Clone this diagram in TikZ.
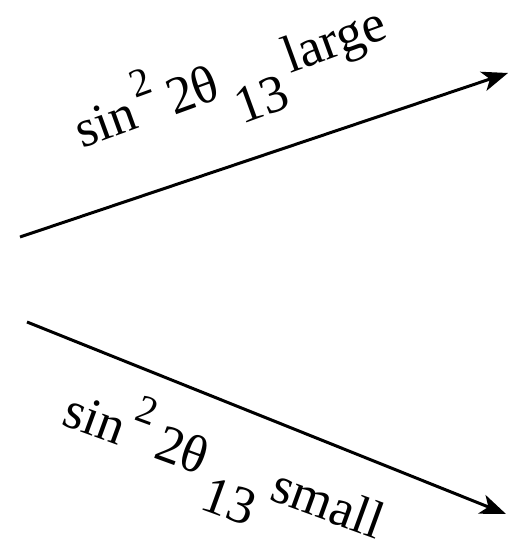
\documentclass[tikz,border=0pt]{standalone}
\usepackage{fontspec}
\setmainfont{Liberation Serif}
\usetikzlibrary{arrows.meta}
\tikzset{
  branch/.style={-{Stealth[length=26pt,width=20pt,inset=7pt]},line width=3pt},
  lbl/.style={font=\fontsize{53}{53}\selectfont,inner sep=0pt,anchor=base west}
}
% sin^2 2theta_13 followed by a word
\newcommand{\mixlbl}[1]{sin\hspace{0.1em}\raisebox{0.55em}{\fontsize{40}{40}\selectfont 2}\hspace{0.2em}2θ\hspace{0.18em}\raisebox{-0.6em}{13}\hspace{0.18em}#1}
\begin{document}
\begin{tikzpicture}[x=1pt,y=-1pt]
  \useasboundingbox (0,0) rectangle (511,545);
  % start points of the two branches
  \coordinate (up0) at (20,237);
  \coordinate (lo0) at (27,322);
  % arrow tips
  \coordinate (up1) at (508,73);
  \coordinate (lo1) at (506,514);
  \draw[branch] (up0) -- (up1);
  \draw[branch] (lo0) -- (lo1);
  % labels
  \node[lbl,rotate=20] (large) at (82,149) {\mixlbl{large}};
  \node[lbl,rotate=-20] (small) at (60,424) {\mixlbl{small}};
\end{tikzpicture}
\end{document}
